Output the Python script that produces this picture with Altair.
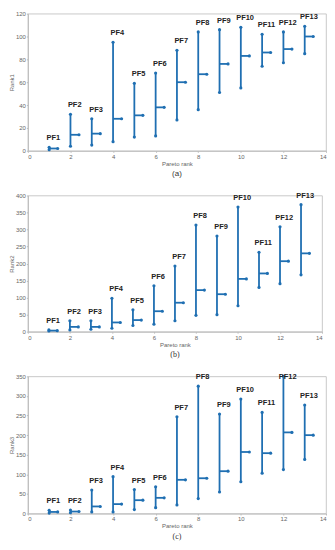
import altair as alt
import pandas as pd

pareto = list(range(1, 14))
labels = [f"PF{i}" for i in pareto]

r1_min = [1, 4, 5, 8, 12, 13, 27, 36, 51, 55, 74, 77, 85]
r1_max = [3, 32, 28, 95, 59, 68, 88, 104, 106, 108, 102, 104, 109]
r1_med = [2, 14, 15, 28, 31, 38, 60, 67, 76, 83, 86, 89, 100]

r2_min = [2, 5, 7, 10, 18, 22, 32, 48, 50, 76, 130, 141, 167]
r2_max = [5, 32, 32, 98, 64, 135, 193, 313, 281, 366, 233, 308, 373]
r2_med = [3, 14, 14, 27, 34, 60, 85, 122, 110, 155, 171, 207, 230]

r3_min = [1, 2, 4, 4, 10, 15, 22, 38, 55, 81, 103, 112, 138]
r3_max = [8, 9, 60, 94, 61, 68, 247, 325, 254, 292, 258, 350, 277]
r3_med = [4, 5, 18, 24, 34, 40, 86, 90, 108, 157, 154, 207, 200]

BLUE = "#1f6fb2"


def panel(lo, hi, med, ytitle, ytop, ystep, caption, capfont, w, h):
    df = pd.DataFrame({"x": pareto, "lab": labels, "lo": lo, "hi": hi, "med": med})
    base = alt.Chart(df).transform_calculate(
        xr="datum.x + 0.4",
        xl="datum.x + 0.2",
        ly=f"min(datum.hi, {ytop * 0.93})",
    )
    xvals = list(range(0, 15, 2))
    yvals = list(range(0, ytop + 1, ystep))
    xsc = alt.Scale(domain=[0, 14], nice=False)
    ysc = alt.Scale(domain=[0, ytop], nice=False)
    xax = alt.Axis(values=xvals, tickCount=len(xvals), title="Pareto rank", grid=False,
                   labelOverlap=False)
    yax = alt.Axis(values=yvals, tickCount=len(yvals), title=ytitle, grid=False,
                   labelOverlap=False)

    vert = base.mark_rule(color=BLUE, strokeWidth=1.8).encode(
        x=alt.X("x:Q", scale=xsc, axis=xax),
        y=alt.Y("lo:Q", scale=ysc, axis=yax),
        y2="hi:Q",
    )
    horiz = base.mark_rule(color=BLUE, strokeWidth=1.8).encode(
        x="x:Q", x2="xr:Q", y="med:Q"
    )
    p_lo = base.mark_circle(color=BLUE, size=10, opacity=1).encode(x="x:Q", y="lo:Q")
    p_hi = base.mark_circle(color=BLUE, size=10, opacity=1).encode(x="x:Q", y="hi:Q")
    p_md = base.mark_circle(color=BLUE, size=10, opacity=1).encode(x="xr:Q", y="med:Q")
    text = base.mark_text(
        dy=-5, baseline="bottom", fontWeight="bold", fontSize=7.5,
        font="Liberation Sans", color="#222222",
    ).encode(x="xl:Q", y="ly:Q", text="lab:N")

    return alt.layer(vert, horiz, p_lo, p_hi, p_md, text).properties(
        width=w,
        height=h,
        title=alt.TitleParams(
            caption, orient="bottom", anchor="middle", fontSize=8,
            font=capfont, fontWeight="normal", color="#333333", offset=4,
        ),
    )


pa = panel(r1_min, r1_max, r1_med, "Rank1", 120, 20, "(a)", "Liberation Sans", 300, 138)
pb = panel(r2_min, r2_max, r2_med, "Rank2", 400, 50, "(b)", "Liberation Serif", 296, 137)
pc = panel(r3_min, r3_max, r3_med, "Rank3", 350, 50, "(c)", "Liberation Serif", 300, 138)

chart = alt.vconcat(pa, pb, pc, spacing=13).properties(
    padding={"left": 0, "top": 0, "right": 0, "bottom": 0}
).configure_view(stroke="#bbbbbb", strokeWidth=0.8).configure_axis(
    labelFontSize=6, labelColor="#666666", titleFontSize=6,
    titleColor="#666666", titleFontWeight="normal", domainColor="#bbbbbb",
    tickColor="#bbbbbb", tickSize=1.5, labelPadding=1, titlePadding=1,
    labelFont="Liberation Sans", titleFont="Liberation Sans", labelOverlap=False,
)

chart.save("out.html", embed_options={"renderer": "svg", "actions": False})
